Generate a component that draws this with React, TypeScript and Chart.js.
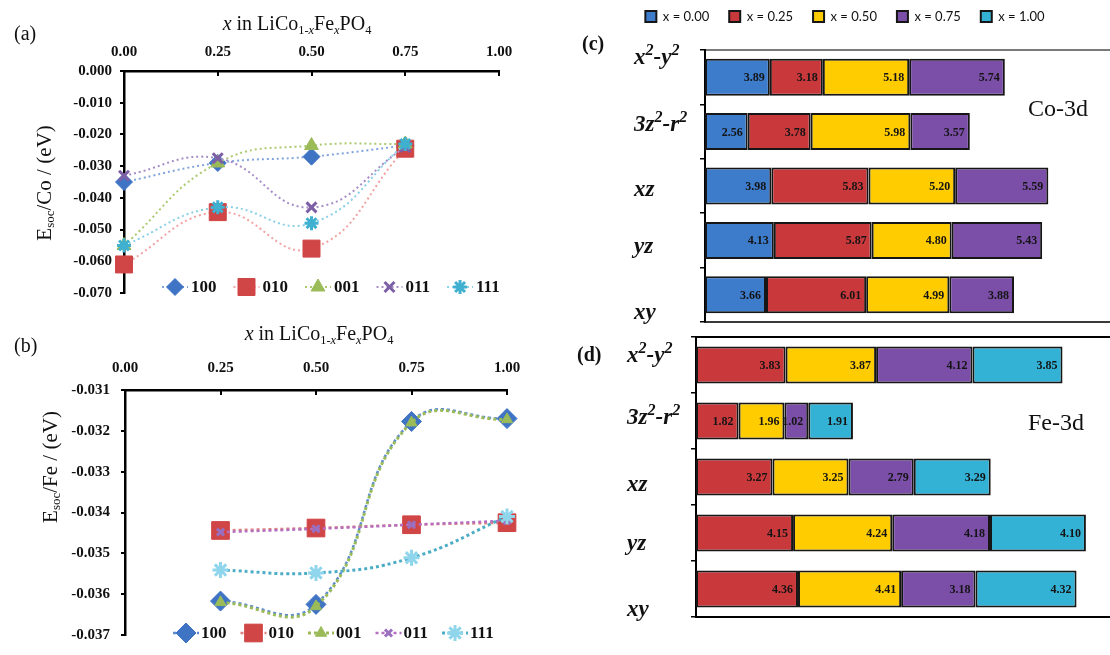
import React, { useEffect, useRef } from 'react';
import { Chart, registerables } from 'chart.js';
import { drawPoint } from 'chart.js/helpers';

Chart.register(...registerables);

const SERIF = '"Liberation Serif", "Times New Roman", serif';

// ---- (a) E_soc per Co atom vs Fe content, one series per magnetisation direction
const directions = ['100', '010', '001', '011', '111'];
const xCo = [0, 0.25, 0.5, 0.75];
const co100 = [-0.035, -0.029, -0.027, -0.0235];
const co010 = [-0.061, -0.0445, -0.056, -0.0245];
const co001 = [-0.055, -0.029, -0.0235, -0.023];
const co011 = [-0.033, -0.0275, -0.043, -0.024];
const co111 = [-0.055, -0.043, -0.048, -0.023];

// ---- (b) E_soc per Fe atom vs Fe content
const xFe = [0.25, 0.5, 0.75, 1.0];
const fe100 = [-0.03617, -0.03625, -0.03177, -0.0317];
const fe010 = [-0.03444, -0.03438, -0.0343, -0.03425];
const fe001 = [-0.0362, -0.0363, -0.0318, -0.03172];
const fe011 = [-0.03448, -0.0344, -0.0343, -0.0342];
const fe111 = [-0.03541, -0.03548, -0.03511, -0.0341];

// ---- (c)/(d) orbital-resolved contributions, stacked by Fe content
const orbitals = ['x²-y²', '3z²-r²', 'xz', 'yz', 'xy'];
const dopingLabels = ['x = 0.00', 'x = 0.25', 'x = 0.50', 'x = 0.75', 'x = 1.00'];
const co3dX000 = [3.89, 2.56, 3.98, 4.13, 3.66];
const co3dX025 = [3.18, 3.78, 5.83, 5.87, 6.01];
const co3dX050 = [5.18, 5.98, 5.2, 4.8, 4.99];
const co3dX075 = [5.74, 3.57, 5.59, 5.43, 3.88];
const co3dX100 = [null, null, null, null, null];
const fe3dX000 = [null, null, null, null, null];
const fe3dX025 = [3.83, 1.82, 3.27, 4.15, 4.36];
const fe3dX050 = [3.87, 1.96, 3.25, 4.24, 4.41];
const fe3dX075 = [4.12, 1.02, 2.79, 4.18, 3.18];
const fe3dX100 = [3.85, 1.91, 3.29, 4.1, 4.32];

// ---- styles
const markerStyles = ['rectRot', 'rect', 'triangle', 'crossRot', 'star'];
const markerColorsA = ['#3f74c4', '#d04545', '#9bbb59', '#7d5fa6', '#3fb0cf'];
const markerColorsB = ['#3f74c4', '#d04545', '#9bbb59', '#9a6fbf', '#8fd6ec'];
const markerBorderWidths = [1, 1, 1, 3, 3];
const lineColorsA = ['#80a4dc', '#f2a2a2', '#abc96e', '#a68dc7', '#8bd0e6'];
const lineColorsB = ['#5b8bd0', '#e28080', '#9bbb59', '#b46fc0', '#4bacc6'];
const radiiA = [8.5, 12, 8, 7, 7];
const radiiB = [10, 12.5, 6.5, 5, 8];
const barColors = ['#3d7bcb', '#c9393c', '#ffcc00', '#7b4fa8', '#33b2d6'];

// Legend drawn inside the plot area: dotted stub + marker + label per series
const markerLegend = {
  id: 'markerLegend',
  afterDatasetsDraw(chart: any, _args: any, opts: any) {
    const { ctx, chartArea } = chart;
    ctx.save();
    ctx.font = `bold ${opts.fontSize}px ${SERIF}`;
    ctx.textBaseline = 'middle';
    ctx.textAlign = 'left';
    let x = chartArea.left + opts.offsetX;
    const y = chartArea.bottom + opts.offsetY;
    chart.data.datasets.forEach((ds: any) => {
      ctx.save();
      ctx.strokeStyle = ds.borderColor;
      ctx.lineWidth = ds.borderWidth;
      ctx.setLineDash(ds.borderDash || []);
      ctx.beginPath();
      ctx.moveTo(x, y);
      ctx.lineTo(x + opts.stub, y);
      ctx.stroke();
      ctx.setLineDash([]);
      ctx.fillStyle = ds.pointBackgroundColor;
      ctx.strokeStyle = ds.pointBorderColor;
      ctx.lineWidth = ds.pointBorderWidth;
      drawPoint(
        ctx,
        { pointStyle: ds.pointStyle, radius: ds.pointRadius, borderWidth: ds.pointBorderWidth, rotation: 0 } as any,
        x + opts.stub / 2,
        y
      );
      ctx.restore();
      ctx.fillStyle = '#111';
      const tx = x + opts.stub + opts.textGap;
      ctx.fillText(ds.label, tx, y + 1);
      x = tx + ctx.measureText(ds.label).width + opts.spacing;
    });
    ctx.restore();
  },
};

// Value printed at the right end of every stacked segment
const segmentLabels = {
  id: 'segmentLabels',
  afterDatasetsDraw(chart: any) {
    const { ctx } = chart;
    ctx.save();
    ctx.font = `bold 12px ${SERIF}`;
    ctx.fillStyle = '#141414';
    ctx.textAlign = 'right';
    ctx.textBaseline = 'middle';
    chart.data.datasets.forEach((ds: any, i: number) => {
      const meta = chart.getDatasetMeta(i);
      meta.data.forEach((el: any, j: number) => {
        const v = ds.data[j];
        if (v == null) return;
        ctx.fillText(Number(v).toFixed(2), el.x - 5, el.y + 1);
      });
    });
    ctx.restore();
  },
};

type LineOpts = {
  yMin: number;
  yMax: number;
  yStep: number;
  left: number;
  top: number;
  pad: { top: number; right: number; bottom: number; left: number };
  xLabelPad: number;
  yLabelPad: number;
  lineColors: string[];
  lineWidths: number[];
  dash: number[];
  markerColors: string[];
  radii: number[];
  legend: any;
};

function lineConfig(xs: number[], series: number[][], o: LineOpts): any {
  const tickFont = { family: SERIF, size: 15, weight: 'bold' as const };
  return {
    type: 'line',
    data: {
      datasets: series.map((ys, i) => ({
        label: directions[i],
        data: xs.map((x, j) => ({ x, y: ys[j] })),
        borderColor: o.lineColors[i],
        borderWidth: o.lineWidths[i],
        borderDash: o.dash,
        pointStyle: markerStyles[i],
        pointRadius: o.radii[i],
        pointBackgroundColor: o.markerColors[i],
        pointBorderColor: o.markerColors[i],
        pointBorderWidth: markerBorderWidths[i],
        tension: 0.45,
        fill: false,
        clip: false,
        order: series.length - i,
      })),
    },
    options: {
      responsive: false,
      animation: false,
      layout: { padding: o.pad },
      plugins: {
        legend: { display: false },
        tooltip: { enabled: false },
        markerLegend: o.legend,
      },
      scales: {
        x: {
          type: 'linear',
          position: 'top',
          min: 0,
          max: 1,
          ticks: {
            stepSize: 0.25,
            maxRotation: 0,
            autoSkip: false,
            callback: (v: any) => Number(v).toFixed(2),
            font: tickFont,
            color: '#111',
            padding: o.xLabelPad,
          },
          grid: { drawOnChartArea: false, color: '#000', lineWidth: 2, tickLength: -5 },
          border: { color: '#000', width: 2.5 },
          afterFit: (s: any) => {
            s.height = o.top;
          },
        },
        y: {
          type: 'linear',
          min: o.yMin,
          max: o.yMax,
          ticks: {
            stepSize: o.yStep,
            autoSkip: false,
            callback: (v: any) => Number(v).toFixed(3),
            font: tickFont,
            color: '#111',
            padding: o.yLabelPad,
          },
          grid: { drawOnChartArea: false, color: '#000', lineWidth: 2, tickLength: 4 },
          border: { color: '#000', width: 2.5 },
          afterFit: (s: any) => {
            s.width = o.left;
          },
        },
      },
    },
    plugins: [markerLegend],
  };
}

type BarOpts = {
  xMax: number;
  yWidth: number;
  topGap: number;
  pad: { top: number; right: number; bottom: number; left: number };
  barPct: number;
  showLegend: boolean;
  topBorder: string;
  bottomBorder: string;
};

function barConfig(series: (number | null)[][], o: BarOpts): any {
  return {
    type: 'bar',
    data: {
      labels: orbitals,
      datasets: series.map((d, i) => ({
        label: dopingLabels[i],
        data: d,
        backgroundColor: barColors[i],
        borderColor: '#161616',
        borderWidth: 2,
        borderSkipped: false,
        barPercentage: o.barPct,
        categoryPercentage: 1,
      })),
    },
    options: {
      indexAxis: 'y',
      responsive: false,
      animation: false,
      layout: { padding: o.pad },
      plugins: {
        tooltip: { enabled: false },
        legend: o.showLegend
          ? {
              display: true,
              position: 'top',
              align: 'center',
              labels: {
                boxWidth: 11,
                boxHeight: 11,
                padding: 20,
                color: '#111',
                font: { family: 'Lato, "Liberation Sans", sans-serif', size: 13 },
              },
            }
          : { display: false },
      },
      scales: {
        x: {
          type: 'linear',
          stacked: true,
          min: 0,
          max: o.xMax,
          ticks: { display: false },
          grid: { display: false },
          border: { display: true, color: o.bottomBorder, width: 2 },
          afterFit: (s: any) => {
            s.height = 0;
          },
        },
        xTop: {
          type: 'linear',
          position: 'top',
          min: 0,
          max: o.xMax,
          ticks: { display: false },
          grid: { display: false },
          border: { display: true, color: o.topBorder, width: 2 },
          afterFit: (s: any) => {
            s.height = o.topGap;
          },
        },
        y: {
          stacked: true,
          ticks: { display: false },
          grid: { drawOnChartArea: false, drawTicks: true, tickLength: 5, color: '#000', lineWidth: 1.5 },
          border: { color: '#000', width: 2 },
          afterFit: (s: any) => {
            s.width = o.yWidth;
          },
        },
      },
    },
    plugins: [segmentLabels],
  };
}

function ChartCanvas(props: { make: () => any; left: number; top: number; width: number; height: number }) {
  const ref = useRef<HTMLCanvasElement>(null);
  useEffect(() => {
    const chart = new Chart(ref.current as HTMLCanvasElement, props.make());
    return () => chart.destroy();
  }, []);
  return (
    <canvas
      ref={ref}
      width={props.width}
      height={props.height}
      style={{ position: 'absolute', left: props.left, top: props.top, width: props.width, height: props.height }}
    />
  );
}

const makeA = () =>
  lineConfig(xCo, [co100, co010, co001, co011, co111], {
    yMin: -0.07,
    yMax: 0,
    yStep: 0.01,
    left: 124,
    top: 71,
    pad: { top: 0, right: 61, bottom: 13, left: 0 },
    xLabelPad: 15,
    yLabelPad: 8,
    lineColors: lineColorsA,
    lineWidths: [2, 2, 2, 2, 2],
    dash: [2, 3],
    markerColors: markerColorsA,
    radii: radiiA,
    legend: { fontSize: 17, offsetX: 38, offsetY: -6, stub: 26, textGap: 3, spacing: 17 },
  });

const makeB = () =>
  lineConfig(xFe, [fe100, fe010, fe001, fe011, fe111], {
    yMin: -0.037,
    yMax: -0.031,
    yStep: 0.001,
    left: 125,
    top: 80,
    pad: { top: 0, right: 63, bottom: 13, left: 0 },
    xLabelPad: 18,
    yLabelPad: 11,
    lineColors: lineColorsB,
    lineWidths: [2.5, 2.5, 3, 2.5, 3],
    dash: [3, 3],
    markerColors: markerColorsB,
    radii: radiiB,
    legend: { fontSize: 17, offsetX: 48, offsetY: -2, stub: 26, textGap: 2, spacing: 14 },
  });

const makeC = () =>
  barConfig([co3dX000, co3dX025, co3dX050, co3dX075, co3dX100], {
    xMax: 24.3,
    yWidth: 125,
    topGap: 17,
    pad: { top: 0, right: 0, bottom: 8, left: 0 },
    barPct: 0.68,
    showLegend: true,
    topBorder: '#7a7a7a',
    bottomBorder: '#3a3a3a',
  });

const makeD = () =>
  barConfig([fe3dX000, fe3dX025, fe3dX050, fe3dX075, fe3dX100], {
    xMax: 17.7,
    yWidth: 116,
    topGap: 0,
    pad: { top: 7, right: 0, bottom: 38, left: 0 },
    barPct: 0.66,
    showLegend: false,
    topBorder: '#000',
    bottomBorder: '#000',
  });

const abs = (left: number, top: number, extra: React.CSSProperties = {}): React.CSSProperties => ({
  position: 'absolute',
  left,
  top,
  lineHeight: 1,
  whiteSpace: 'nowrap',
  transform: 'translateY(-50%)',
  pointerEvents: 'none',
  ...extra,
});

const sub: React.CSSProperties = { fontSize: '0.62em', verticalAlign: '-0.3em' };
const sup: React.CSSProperties = { fontSize: '0.7em', verticalAlign: '0.5em' };

function Formula() {
  return (
    <>
      <i>x</i> in LiCo<span style={sub}>1-<i>x</i></span>Fe<span style={sub}><i>x</i></span>PO<span style={sub}>4</span>
    </>
  );
}

function Orbital({ text }: { text: string }) {
  const parts = text.split('²');
  return (
    <>
      {parts.map((p, i) => (
        <React.Fragment key={i}>
          {p}
          {i < parts.length - 1 ? <span style={sup}>2</span> : null}
        </React.Fragment>
      ))}
    </>
  );
}

const orbitalRowsC = [55, 122, 188, 245, 311];
const orbitalRowsD = [353, 415, 483, 542, 608];

export default function App() {
  return (
    <div
      style={{
        position: 'absolute',
        left: 0,
        top: 0,
        width: 1110,
        height: 655,
        overflow: 'hidden',
        background: '#fff',
        fontFamily: SERIF,
        color: '#111',
      }}
    >
      <ChartCanvas make={makeA} left={0} top={0} width={560} height={310} />
      <ChartCanvas make={makeB} left={0} top={310} width={570} height={345} />
      <ChartCanvas make={makeC} left={580} top={-10} width={530} height={340} />
      <ChartCanvas make={makeD} left={580} top={330} width={530} height={325} />

      {/* panel (a) text */}
      <div style={abs(14, 33, { fontSize: 20 })}>(a)</div>
      <div style={abs(297, 25, { fontSize: 20, transform: 'translate(-50%,-50%)' })}>
        <Formula />
      </div>
      <div style={abs(45, 183, { fontSize: 21, transform: 'translate(-50%,-50%) rotate(-90deg)' })}>
        E<span style={sub}>soc</span>/Co / (eV)
      </div>

      {/* panel (b) text */}
      <div style={abs(14, 345, { fontSize: 20 })}>(b)</div>
      <div style={abs(319, 335, { fontSize: 20, transform: 'translate(-50%,-50%)' })}>
        <Formula />
      </div>
      <div style={abs(51, 467, { fontSize: 21, transform: 'translate(-50%,-50%) rotate(-90deg)' })}>
        E<span style={sub}>soc</span>/Fe / (eV)
      </div>

      {/* panel (c) text */}
      <div style={abs(582, 43, { fontSize: 20, fontWeight: 'bold' })}>(c)</div>
      <div style={abs(1028, 108, { fontSize: 24 })}>Co-3d</div>
      {orbitals.map((o, i) => (
        <div key={'c' + o} style={abs(634, orbitalRowsC[i], { fontSize: 23, fontStyle: 'italic', fontWeight: 'bold' })}>
          <Orbital text={o} />
        </div>
      ))}

      {/* panel (d) text */}
      <div style={abs(577, 354, { fontSize: 20, fontWeight: 'bold' })}>(d)</div>
      <div style={abs(1028, 422, { fontSize: 24 })}>Fe-3d</div>
      {orbitals.map((o, i) => (
        <div key={'d' + o} style={abs(627, orbitalRowsD[i], { fontSize: 23, fontStyle: 'italic', fontWeight: 'bold' })}>
          <Orbital text={o} />
        </div>
      ))}
    </div>
  );
}
